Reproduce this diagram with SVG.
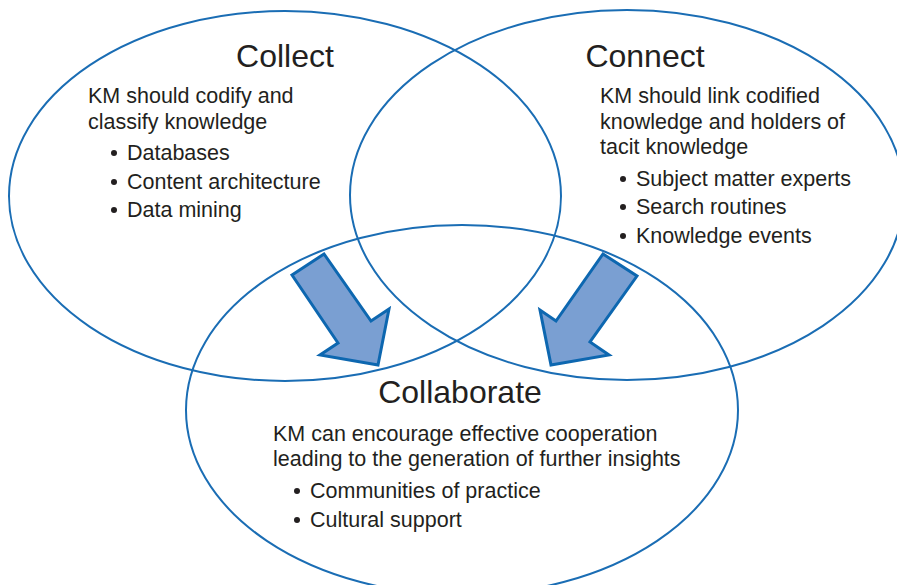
<svg xmlns="http://www.w3.org/2000/svg" width="897" height="585" viewBox="0 0 897 585">
<style>
.ring{fill:none;stroke:#1a6db4;stroke-width:2}
.title{font-family:"Liberation Sans",Arial,sans-serif;font-size:32px;fill:#231f20;text-anchor:middle}
.body{font-family:"Liberation Sans",Arial,sans-serif;font-size:21.5px;fill:#231f20}
.arrow{fill:#7a9fd2;stroke:#0d67b0;stroke-width:3;stroke-linejoin:miter}
.dot{fill:#231f20}
</style>
<rect width="897" height="585" fill="#ffffff"/>
<g id="collect">
<ellipse class="ring" cx="285" cy="196" rx="276" ry="185"/>
<text class="title" x="285" y="67">Collect</text>
<text class="body" x="88" y="103">KM should codify and</text>
<text class="body" x="88" y="129">classify knowledge</text>
<circle class="dot" cx="114" cy="153" r="3"/>
<text class="body" x="127" y="160">Databases</text>
<circle class="dot" cx="114" cy="182" r="3"/>
<text class="body" x="127" y="189">Content architecture</text>
<circle class="dot" cx="114" cy="210" r="3"/>
<text class="body" x="127" y="217">Data mining</text>
</g>
<g id="connect">
<ellipse class="ring" cx="627" cy="195" rx="277" ry="185"/>
<text class="title" x="645" y="67">Connect</text>
<text class="body" x="600" y="103">KM should link codified</text>
<text class="body" x="600" y="129">knowledge and holders of</text>
<text class="body" x="600" y="154">tacit knowledge</text>
<circle class="dot" cx="623" cy="179" r="3"/>
<text class="body" x="636" y="186">Subject matter experts</text>
<circle class="dot" cx="623" cy="207" r="3"/>
<text class="body" x="636" y="214">Search routines</text>
<circle class="dot" cx="623" cy="236" r="3"/>
<text class="body" x="636" y="243">Knowledge events</text>
</g>
<g id="collaborate">
<ellipse class="ring" cx="462" cy="410" rx="276" ry="185"/>
<text class="title" x="460" y="403">Collaborate</text>
<text class="body" x="273" y="441">KM can encourage effective cooperation</text>
<text class="body" x="273" y="466">leading to the generation of further insights</text>
<circle class="dot" cx="297" cy="491" r="3"/>
<text class="body" x="310" y="498">Communities of practice</text>
<circle class="dot" cx="297" cy="520" r="3"/>
<text class="body" x="310" y="527">Cultural support</text>
</g>
<g id="connectors">
<polygon class="arrow" points="292,275 324,254 371,321 389,309 378,365 320,355 338,343"/>
<polygon class="arrow" points="603,254 637,276 590,342 609,355 551,365 540,310 556,321"/>
</g>
</svg>
